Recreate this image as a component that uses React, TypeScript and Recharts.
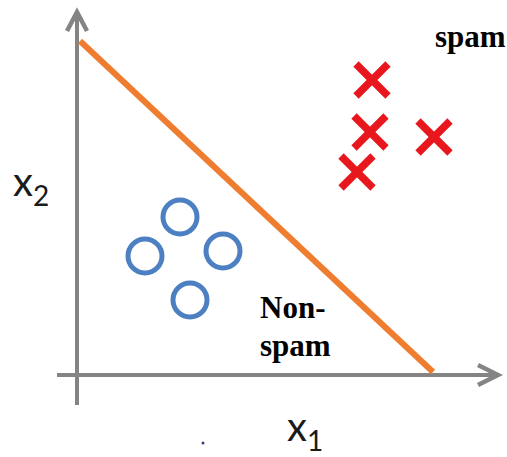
import React from 'react';
import { ComposedChart, Scatter, XAxis, YAxis } from 'recharts';

// Data units: origin at the axes' intersection
const spamX = [7.375, 7.325, 8.925, 7.0];
const spamY = [7.375, 6.075, 5.95, 5.075];
const hamX = [2.575, 1.7, 3.65, 2.825];
const hamY = [3.95, 2.975, 3.1, 1.875];
const boundaryX = [0.075, 8.9];
const boundaryY = [8.35, 0.075];

const x1AxisX = [-0.5, 10.525];
const x1AxisY = [0, 0];
const x2AxisX = [0, 0];
const x2AxisY = [-0.75, 9.075];
const x1ArrowX = [10.025, 10.525, 10.025];
const x1ArrowY = [0.25, 0, -0.25];
const x2ArrowX = [-0.25, 0, 0.25];
const x2ArrowY = [8.6, 9.075, 8.6];

const classTexts = ['spam', 'Non-', 'spam'];
const classTextX = [8.95, 4.575, 4.575];
const classTextY = [8.2, 1.425, 0.475];

const axisNames = ['x', 'x'];
const axisSubs = ['2', '1'];
const axisNameX = [-1.6, 5.25];
const axisNameY = [4.475, -1.65];

const dotX = [3.15];
const dotY = [-1.7];

const zip = (xs: number[], ys: number[]) => xs.map((x, i) => ({ x, y: ys[i] }));

const spamData = zip(spamX, spamY);
const hamData = zip(hamX, hamY);
const boundaryData = zip(boundaryX, boundaryY);
const classTextData = classTexts.map((t, i) => ({ x: classTextX[i], y: classTextY[i], t }));
const axisNameData = axisNames.map((t, i) => ({ x: axisNameX[i], y: axisNameY[i], t, s: axisSubs[i] }));

const AXIS = '#848484';
const RED = '#e8161d';
const BLUE = '#4c80c3';
const ORANGE = '#ee7d30';

const Empty = () => <g />;

const Cross = (p: any) => {
  const { cx, cy } = p;
  const d = 16;
  return (
    <g stroke={RED} strokeWidth={7.5} strokeLinecap="butt">
      <line x1={cx - d} y1={cy - d} x2={cx + d} y2={cy + d} />
      <line x1={cx - d} y1={cy + d} x2={cx + d} y2={cy - d} />
    </g>
  );
};

const Ring = (p: any) => (
  <circle cx={p.cx} cy={p.cy} r={17} fill="none" stroke={BLUE} strokeWidth={5} />
);

const ClassText = (p: any) => (
  <text
    x={p.cx}
    y={p.cy}
    fontFamily="'Liberation Serif', 'Times New Roman', serif"
    fontWeight="bold"
    fontSize={31}
    fill="#000"
    textAnchor="start"
  >
    {p.payload.t}
  </text>
);

const AxisName = (p: any) => (
  <text x={p.cx} y={p.cy} fontFamily="Lato, 'Open Sans', sans-serif" fill="#1a1a1a" textAnchor="start">
    <tspan fontSize={40}>{p.payload.t}</tspan>
    <tspan fontSize={28} dy={10}>{p.payload.s}</tspan>
  </text>
);

const Dot = (p: any) => <circle cx={p.cx} cy={p.cy} r={1.5} fill="#3a3f7a" />;

export default function App() {
  const lineProps = (color: string, w: number) => ({
    line: { stroke: color, strokeWidth: w, strokeLinecap: 'butt' as const },
    shape: Empty,
    isAnimationActive: false,
  });
  return (
    <div style={{ position: 'absolute', left: 0, top: 0, width: 507, height: 457, background: '#fff' }}>
      <ComposedChart width={507} height={457} margin={{ top: 0, right: 0, bottom: 0, left: 0 }}>
        <XAxis type="number" dataKey="x" domain={[-1.925, 10.75]} allowDataOverflow hide />
        <YAxis type="number" dataKey="y" domain={[-2.05, 9.375]} allowDataOverflow hide />
        <Scatter data={zip(x1AxisX, x1AxisY)} {...lineProps(AXIS, 4)} />
        <Scatter data={zip(x2AxisX, x2AxisY)} {...lineProps(AXIS, 4)} />
        <Scatter data={zip(x1ArrowX, x1ArrowY)} {...lineProps(AXIS, 4.5)} />
        <Scatter data={zip(x2ArrowX, x2ArrowY)} {...lineProps(AXIS, 4.5)} />
        <Scatter data={boundaryData} {...lineProps(ORANGE, 6)} />
        <Scatter data={spamData} shape={Cross} isAnimationActive={false} />
        <Scatter data={hamData} shape={Ring} isAnimationActive={false} />
        <Scatter data={classTextData} shape={ClassText} isAnimationActive={false} />
        <Scatter data={axisNameData} shape={AxisName} isAnimationActive={false} />
        <Scatter data={zip(dotX, dotY)} shape={Dot} isAnimationActive={false} />
      </ComposedChart>
    </div>
  );
}
